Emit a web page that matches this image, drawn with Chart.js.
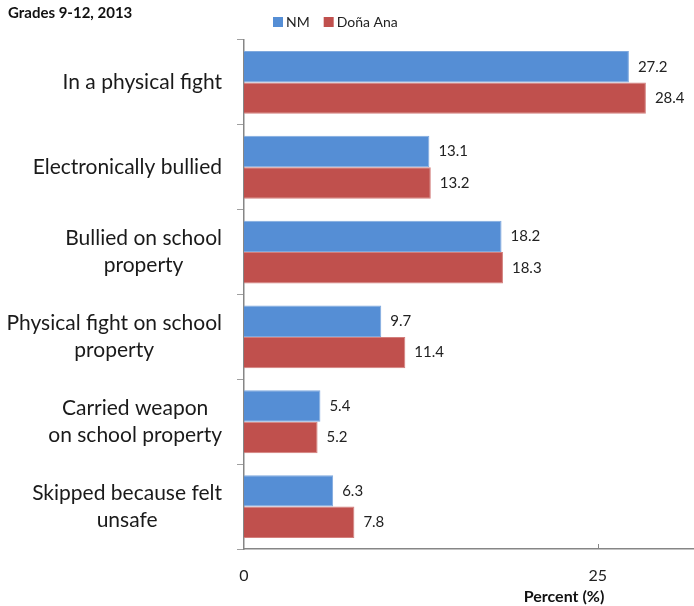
<!DOCTYPE html>
<html>
<head>
<meta charset="utf-8">
<script src="https://cdn.jsdelivr.net/npm/chart.js@4/dist/chart.umd.min.js"></script>
<style>
  html, body { margin: 0; padding: 0; background: #fff; }
  #wrap { width: 694px; height: 606px; }
</style>
</head>
<body>
<div id="wrap"><canvas id="c"></canvas></div>
<script>
// data
var categories = [
    'In a physical fight',
    'Electronically bullied',
    ['Bullied on school', 'property'],
    ['Physical fight on school', 'property'],
    ['Carried weapon', 'on school property'],
    ['Skipped because felt', 'unsafe']
];
var nmValues = [27.2, 13.1, 18.2, 9.7, 5.4, 6.3];
var donaAnaValues = [28.4, 13.2, 18.3, 11.4, 5.2, 7.8];
var xTicks = [0, 25];

var FONT = 'Lato, "Open Sans", sans-serif';

// title, legend, category labels, axis title and value labels
var extrasPlugin = {
    id: 'extras',
    afterDraw: function (chart) {
        var ctx = chart.ctx;
        var area = chart.chartArea;
        ctx.save();

        ctx.fillStyle = '#111';
        ctx.font = 'bold 15px ' + FONT;
        ctx.textAlign = 'left';
        ctx.textBaseline = 'middle';
        ctx.fillText('Grades 9-12, 2013', 8, 13);

        // legend
        var lx = 273;
        ctx.font = '14px ' + FONT;
        chart.data.datasets.forEach(function (ds) {
            ctx.fillStyle = ds.backgroundColor;
            ctx.fillRect(lx, 17, 10, 10);
            ctx.fillStyle = '#222';
            ctx.fillText(ds.label, lx + 13, 22);
            lx += 13 + ctx.measureText(ds.label).width + 14;
        });

        // category labels: block right-aligned, lines centred
        var ys = chart.scales.y;
        ctx.font = '21px ' + FONT;
        ctx.textAlign = 'center';
        ctx.fillStyle = '#1a1a1a';
        chart.data.labels.forEach(function (lab, i) {
            var lines = Array.isArray(lab) ? lab : [lab];
            var w = 0;
            lines.forEach(function (l) { w = Math.max(w, ctx.measureText(l).width); });
            var cx = 222 - w / 2;
            var cy = ys.getPixelForTick(i);
            var lh = 27;
            lines.forEach(function (l, k) {
                ctx.fillText(l, cx, cy + (k - (lines.length - 1) / 2) * lh);
            });
        });

        // x axis title
        ctx.font = 'bold 16px ' + FONT;
        ctx.textAlign = 'center';
        ctx.fillStyle = '#111';
        ctx.fillText('Percent (%)', 564, 597);

        // upward tick marks on x axis
        var xs = chart.scales.x;
        ctx.strokeStyle = '#868686';
        ctx.lineWidth = 1;
        xTicks.forEach(function (v) {
            if (v === 0) return;
            var px = Math.round(xs.getPixelForValue(v)) + 0.5;
            ctx.beginPath();
            ctx.moveTo(px, area.bottom);
            ctx.lineTo(px, area.bottom - 5);
            ctx.stroke();
        });

        // value labels
        ctx.font = '15px ' + FONT;
        ctx.textAlign = 'left';
        ctx.fillStyle = '#222';
        chart.data.datasets.forEach(function (ds, i) {
            chart.getDatasetMeta(i).data.forEach(function (bar, j) {
                ctx.fillText(ds.data[j].toFixed(1), bar.x + 9, bar.y);
            });
        });
        ctx.restore();
    }
};

new Chart(document.getElementById('c'), {
    type: 'bar',
    data: {
        labels: categories,
        datasets: [
            {
                label: 'NM',
                data: nmValues,
                backgroundColor: '#558ED5',
                borderColor: '#7FA9DE',
                borderWidth: 1,
                categoryPercentage: 0.74,
                barPercentage: 1.0
            },
            {
                label: 'Doña Ana',
                data: donaAnaValues,
                backgroundColor: '#C0504D',
                borderColor: '#D37F7C',
                borderWidth: 1,
                categoryPercentage: 0.74,
                barPercentage: 1.0
            }
        ]
    },
    options: {
        indexAxis: 'y',
        responsive: true,
        maintainAspectRatio: false,
        animation: false,
        layout: { padding: { top: 40, right: 0, left: 0, bottom: 0 } },
        plugins: {
            legend: { display: false },
            title: { display: false },
            tooltip: { enabled: false }
        },
        scales: {
            x: {
                min: 0,
                max: 31.8,
                afterBuildTicks: function (scale) {
                    scale.ticks = xTicks.map(function (v) { return { value: v }; });
                },
                afterFit: function (scale) { scale.height = 57; },
                grid: { display: false, drawOnChartArea: false },
                border: { display: true, color: '#868686', width: 1.5 },
                ticks: {
                    color: '#222',
                    font: { family: FONT, size: 16 },
                    padding: 9,
                    maxRotation: 0
                }
            },
            y: {
                afterFit: function (scale) { scale.width = 244; },
                grid: {
                    drawOnChartArea: false,
                    offset: true,
                    tickLength: 7,
                    color: '#A0A0A0'
                },
                border: { display: true, color: '#868686', width: 1.5 },
                ticks: { display: false }
            }
        }
    },
    plugins: [extrasPlugin]
});
</script>
</body>
</html>
